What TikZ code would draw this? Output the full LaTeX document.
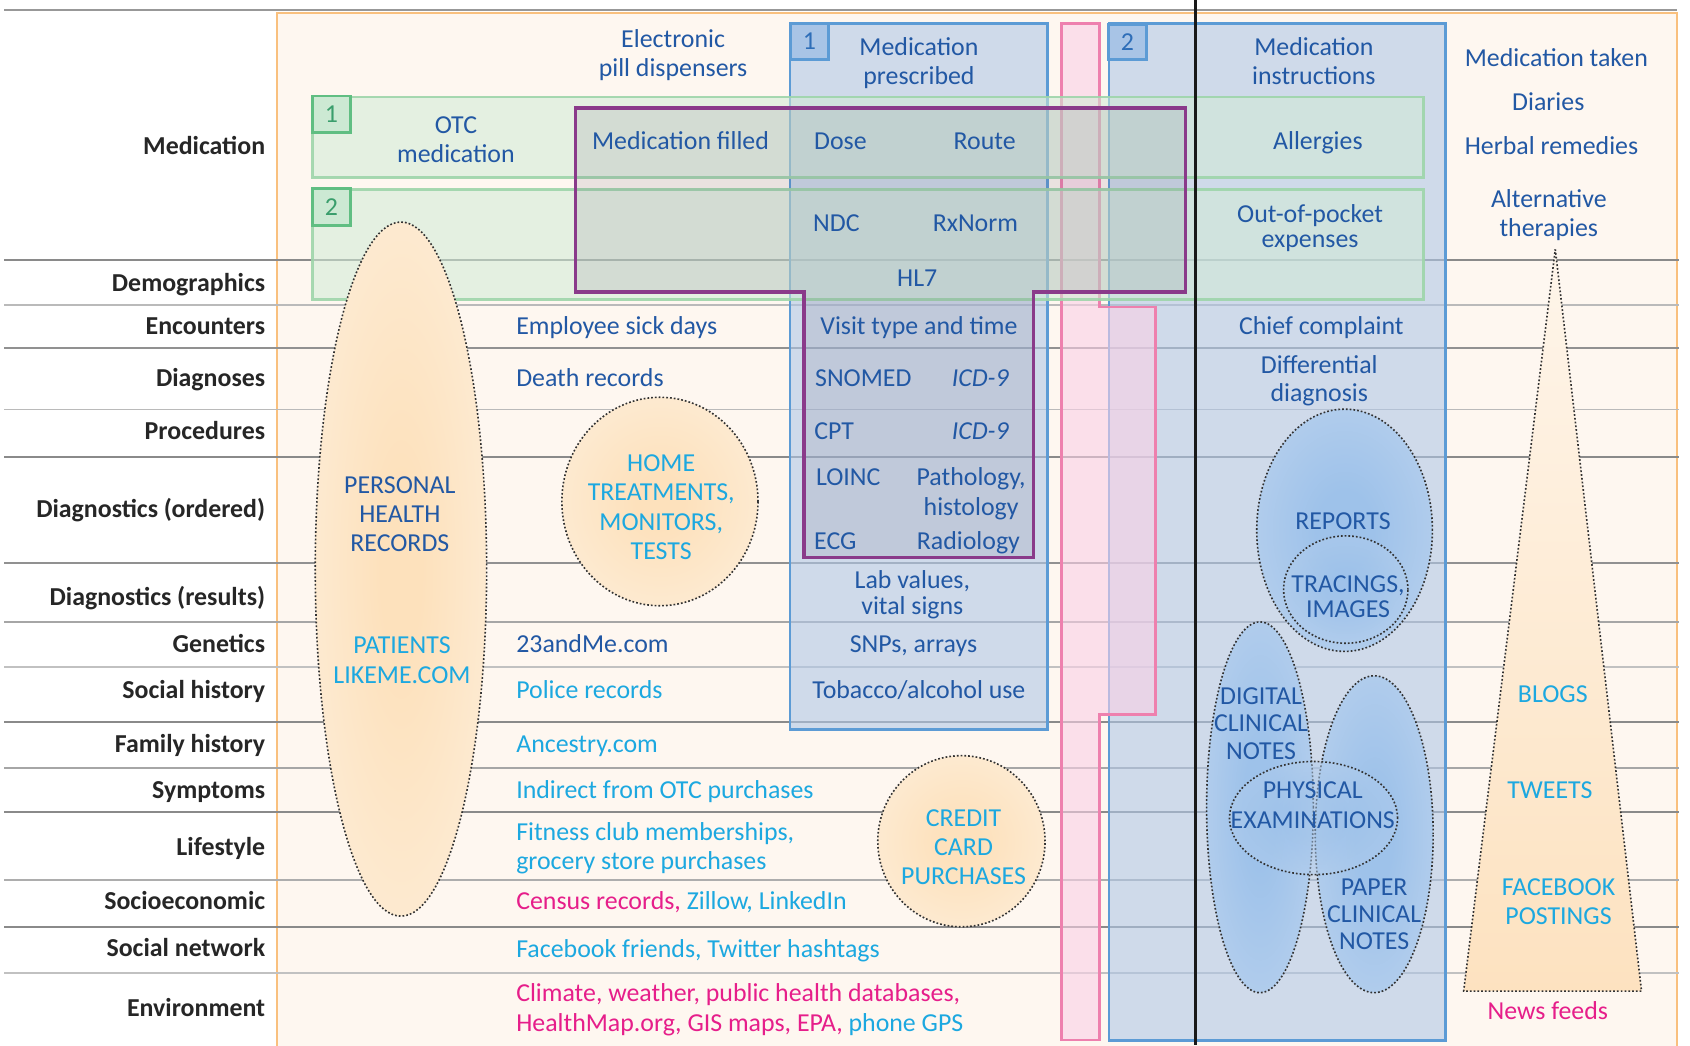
\documentclass[tikz,border=0pt]{standalone}
\usepackage{fontspec}
\setmainfont{Carlito}

\definecolor{labelink}{RGB}{38,38,38}
\definecolor{navyink}{RGB}{34,88,164}
\definecolor{cyanink}{RGB}{28,168,224}
\definecolor{pinkink}{RGB}{230,30,138}
\definecolor{peachbg}{RGB}{254,247,240}
\definecolor{peachedge}{RGB}{249,192,126}
\definecolor{rulegray}{RGB}{118,118,118}
\definecolor{boxblue}{RGB}{176,199,230}
\definecolor{boxblueedge}{RGB}{92,155,213}
\definecolor{boxgreen}{RGB}{209,235,214}
\definecolor{boxgreenedge}{RGB}{158,213,170}
\definecolor{tagfillgreen}{RGB}{204,233,211}
\definecolor{taggreenedge}{RGB}{96,190,130}
\definecolor{taggreenink}{RGB}{58,158,108}
\definecolor{tagfillblue}{RGB}{168,196,230}
\definecolor{tagblueink}{RGB}{46,110,184}
\definecolor{colpink}{RGB}{250,208,230}
\definecolor{colpinkedge}{RGB}{238,128,174}
\definecolor{bandpurple}{RGB}{138,58,138}
\definecolor{bandfill}{RGB}{90,80,110}
\definecolor{dotink}{RGB}{50,50,50}
\definecolor{peachcore}{RGB}{253,225,188}
\definecolor{peachrim}{RGB}{254,245,234}
\definecolor{bluecore}{RGB}{158,194,234}
\definecolor{bluerim}{RGB}{203,219,239}
\definecolor{conetop}{RGB}{254,245,234}
\definecolor{conebase}{RGB}{253,226,192}

% soft radial fills for the dotted bubbles
\pgfdeclareradialshading{peachglow}{\pgfpoint{0bp}{0bp}}{%
  color(0bp)=(peachcore); color(6bp)=(peachcore); color(50bp)=(peachrim); color(100bp)=(peachrim)}
\pgfdeclareradialshading{blueglow}{\pgfpoint{0bp}{0bp}}{%
  color(0bp)=(bluecore); color(8bp)=(bluecore); color(50bp)=(bluerim); color(100bp)=(bluerim)}

\newcommand\diagfont{\fontsize{24}{27}\selectfont}
\newcommand\leadfont[1]{\fontsize{24}{#1}\selectfont}

\begin{document}
\begin{tikzpicture}[x=1pt,y=-1pt,
  diagtext/.style={inner sep=0pt, outer sep=0pt, font=\diagfont, align=center, yshift=-2pt},
  rowlabel/.style={diagtext, anchor=east, font=\diagfont\bfseries, text=labelink},
  navytext/.style={diagtext, text=navyink},
  cyantext/.style={diagtext, text=cyanink},
  pinktext/.style={diagtext, text=pinkink},
  leftcol/.style={anchor=west, align=left},
  greentag/.style={draw=taggreenedge, fill=tagfillgreen, line width=2.6pt, text=taggreenink,
    font=\diagfont, minimum width=35pt, minimum height=34pt, inner sep=0pt},
  bluetag/.style={draw=boxblueedge, fill=tagfillblue, line width=2.6pt, text=tagblueink,
    font=\diagfont, minimum width=35pt, minimum height=33pt, inner sep=0pt},
  bluebox/.style={fill=boxblue, fill opacity=0.6, draw=boxblueedge, draw opacity=1, line width=2.6pt},
  greenbox/.style={fill=boxgreen, fill opacity=0.57, draw=boxgreenedge, draw opacity=0.9, line width=2.6pt},
  dotline/.style={draw=dotink, line width=1.5pt, dash pattern=on 1.6pt off 1.9pt}
]
\useasboundingbox (0,0) rectangle (1568,970);

% peach background panel
\fill[peachbg] (257,12) rectangle (1556,972);
\draw[peachedge, line width=2.4pt] (257,972) -- (257,12) -- (1556,12) -- (1556,972);
\draw[rulegray!75, line width=1.8pt] (4,9.5) -- (1556,9.5);

% row separators
\foreach \yy/\tone in {241/85, 283/50, 323/80, 380/50, 424/85, 522.7/80, 577/65, 618.5/45,
  669.6/85, 712.9/65, 753/85, 816.5/60, 859.8/85, 903/45}
  \draw[rulegray!\tone, line width=1.7pt] (4,\yy) -- (1558,\yy);

% blue source columns
\path[bluebox] (733,22) rectangle (971.5,677);
\path[bluebox] (1029,22) rectangle (1341,965);

% pink column
\path[fill=colpink, fill opacity=0.6, draw=colpinkedge, line width=2.4pt]
  (985,22) -- (1020,22) -- (1020,285) -- (1072,285) -- (1072,663) -- (1020,663)
  -- (1020,965) -- (985,965) -- cycle;

% green bands
\path[greenbox] (290,90) rectangle (1321,165);
\path[greenbox] (290,175.5) rectangle (1321,277.5);

% purple band
\path[fill=bandfill, fill opacity=0.12, draw=bandpurple, draw opacity=1, line width=3.2pt]
  (534,100) -- (1100,100) -- (1100,271) -- (959,271) -- (959,517) -- (746,517)
  -- (746,271) -- (534,271) -- cycle;

% numbered tags
\node[greentag] (gtagone) at (307.5,106) {1};
\node[greentag] (gtagtwo) at (307.5,192) {2};
\node[bluetag] (btagone) at (751,38.5) {1};
\node[bluetag] (btagtwo) at (1046,39) {2};

% peach bubbles
\shade[shading=peachglow] (372,528) ellipse [x radius=79.5pt, y radius=322pt];
\path[dotline] (372,528) ellipse [x radius=79.5pt, y radius=322pt];
\shade[shading=peachglow] (612.3,465.3) ellipse [x radius=91pt, y radius=96.7pt];
\path[dotline] (612.3,465.3) ellipse [x radius=91pt, y radius=96.7pt];
\shade[shading=peachglow] (892,780.5) ellipse [x radius=77.6pt, y radius=79.4pt];
\path[dotline] (892,780.5) ellipse [x radius=77.6pt, y radius=79.4pt];

% social media cone
\shade[top color=conetop, bottom color=conebase] (1443,231.3) -- (1523,919.5) -- (1358,919.5) -- cycle;
\path[dotline] (1443,231.3) -- (1523,919.5) -- (1358,919.5) -- cycle;

% blue bubbles
\shade[shading=blueglow] (1247.5,492) ellipse [x radius=81.5pt, y radius=112.4pt];
\path[dotline] (1247.5,492) ellipse [x radius=81.5pt, y radius=112.4pt];
\shade[shading=blueglow, fill opacity=0.5] (1248.6,547) ellipse [x radius=57.7pt, y radius=49.8pt];
\path[dotline] (1248.6,547) ellipse [x radius=57.7pt, y radius=49.8pt];
\shade[shading=blueglow] (1169,749) ellipse [x radius=49.5pt, y radius=172pt];
\shade[shading=blueglow] (1275,774) ellipse [x radius=54.7pt, y radius=147pt];
\path[dotline] (1169,749) ellipse [x radius=49.5pt, y radius=172pt];
\path[dotline] (1275,774) ellipse [x radius=54.7pt, y radius=147pt];
\shade[shading=blueglow, fill opacity=0.5] (1218.7,759) ellipse [x radius=78pt, y radius=52.5pt];
\path[dotline] (1218.7,759) ellipse [x radius=78pt, y radius=52.5pt];

% row labels
\node[rowlabel] (rmed) at (246,136) {\strut Medication};
\node[rowlabel] (rdem) at (246,263) {\strut Demographics};
\node[rowlabel] (renc) at (246,303) {\strut Encounters};
\node[rowlabel] (rdia) at (246,351) {\strut Diagnoses};
\node[rowlabel] (rpro) at (246,400.5) {\strut Procedures};
\node[rowlabel] (rord) at (246,472.6) {\strut Diagnostics (ordered)};
\node[rowlabel] (rres) at (246,554.5) {\strut Diagnostics (results)};
\node[rowlabel] (rgen) at (246,598) {\strut Genetics};
\node[rowlabel] (rsoc) at (246,641) {\strut Social history};
\node[rowlabel] (rfam) at (246,691) {\strut Family history};
\node[rowlabel] (rsym) at (246,733) {\strut Symptoms};
\node[rowlabel] (rlif) at (246,786.5) {\strut Lifestyle};
\node[rowlabel] (rses) at (246,836.6) {\strut Socioeconomic};
\node[rowlabel] (rnet) at (246,880) {\strut Social network};
\node[rowlabel] (renv) at (246,935.6) {\strut Environment};

% medication band texts
\node[navytext] (pill) at (624.5,50.2) {\strut Electronic\\\strut pill dispensers};
\node[navytext] (otc) at (423,129.5) {\strut OTC\\\strut medication};
\node[navytext] (filled) at (631.4,131.5) {\strut Medication filled};
\node[navytext] (dose) at (779.7,131.5) {\strut Dose};
\node[navytext] (route) at (913.6,131.5) {\strut Route};
\node[navytext] (ndc) at (776,207.8) {\strut NDC};
\node[navytext] (rxnorm) at (905,207.8) {\strut RxNorm};
\node[navytext] (hl7) at (851,258.2) {\strut HL7};
\node[navytext] (prescribed) at (852.6,57.3) {\strut Medication\\\strut prescribed};

% EHR column texts
\node[navytext] (visit) at (852.6,303) {\strut Visit type and time};
\node[navytext] (snomed) at (801,351) {\strut SNOMED};
\node[navytext] (icddx) at (909.5,351) {\strut\itshape ICD-9};
\node[navytext] (cpt) at (774,400.5) {\strut CPT};
\node[navytext] (icdpx) at (909.5,400.5) {\strut\itshape ICD-9};
\node[navytext] (loinc) at (787,443) {\strut LOINC};
\node[navytext, font=\leadfont{28}] (patho) at (901,457) {\strut Pathology,\\\strut histology};
\node[navytext] (ecg) at (775,502) {\strut ECG};
\node[navytext] (radio) at (898.5,502) {\strut Radiology};
\node[navytext, font=\leadfont{23}] (labs) at (846.5,551) {\strut Lab values,\\\strut vital signs};
\node[navytext] (snps) at (847.5,598) {\strut SNPs, arrays};
\node[navytext] (tobacco) at (852.6,641) {\strut Tobacco/alcohol use};

% outside sources, listed by row
\node[navytext, leftcol] (sick) at (479,303) {\strut Employee sick days};
\node[navytext, leftcol] (death) at (479,351) {\strut Death records};
\node[navytext, leftcol] (dna) at (479,598) {\strut 23andMe.com};
\node[cyantext, leftcol] (police) at (479,641) {\strut Police records};
\node[cyantext, leftcol] (ancestry) at (479,691) {\strut Ancestry.com};
\node[cyantext, leftcol] (indirect) at (479,733) {\strut Indirect from OTC purchases};
\node[cyantext, leftcol, font=\leadfont{26.5}] (fitness) at (479,786) {\strut Fitness club memberships,\\\strut grocery store purchases};
\node[diagtext, leftcol] (census) at (479,836.6) {\strut\textcolor{pinkink}{Census records,} \textcolor{cyanink}{Zillow, LinkedIn}};
\node[cyantext, leftcol] (friends) at (479,881) {\strut Facebook friends, Twitter hashtags};
\node[diagtext, leftcol, font=\leadfont{28}] (climate) at (479,935.5)
  {\strut\textcolor{pinkink}{Climate, weather, public health databases,}\\
   \strut\textcolor{pinkink}{HealthMap.org, GIS maps, EPA,} \textcolor{cyanink}{phone GPS}};

% bubble captions (peach)
\node[navytext] (phr) at (371,477.3) {\strut PERSONAL\\HEALTH\\\strut RECORDS};
\node[cyantext, font=\leadfont{28}] (plm) at (373,612.3) {\strut PATIENTS\\\strut LIKEME.COM};
\node[cyantext, font=\leadfont{27.3}] (home) at (613.5,471) {\strut HOME\\TREATMENTS,\\MONITORS,\\\strut TESTS};
\node[cyantext, font=\leadfont{26.7}] (credit) at (894,786.6) {\strut CREDIT\\CARD\\\strut PURCHASES};

% clinician notes column
\node[navytext] (instr) at (1219,57.7) {\strut Medication\\\strut instructions};
\node[navytext] (allerg) at (1222.7,131.5) {\strut Allergies};
\node[navytext, font=\leadfont{23}] (oop) at (1215.5,211) {\strut Out-of-pocket\\\strut expenses};
\node[navytext] (chief) at (1226,303) {\strut Chief complaint};
\node[navytext, font=\leadfont{26.3}] (ddx) at (1224,352) {\strut Differential\\\strut diagnosis};
\node[navytext] (reports) at (1246,484) {\strut REPORTS};
\node[navytext, font=\leadfont{23}] (tracing) at (1250.7,555) {\strut TRACINGS,\\\strut IMAGES};
\node[navytext, font=\leadfont{25.5}] (digital) at (1170,672) {\strut DIGITAL\\CLINICAL\\\strut NOTES};
\node[navytext, font=\leadfont{28}] (physical) at (1218,747) {\strut PHYSICAL\\\strut EXAMINATIONS};
\node[navytext, font=\leadfont{25}] (paper) at (1275,848.5) {\strut PAPER\\CLINICAL\\\strut NOTES};

% patient-generated column
\node[navytext] (taken) at (1444,54) {\strut Medication taken};
\node[navytext] (diaries) at (1436.5,95.3) {\strut Diaries};
\node[navytext] (herbal) at (1439.5,135.5) {\strut Herbal remedies};
\node[navytext] (altern) at (1437,198.2) {\strut Alternative\\\strut therapies};
\node[cyantext] (blogs) at (1440.7,644.8) {\strut BLOGS};
\node[cyantext] (tweets) at (1438,733) {\strut TWEETS};
\node[cyantext, font=\leadfont{26.5}] (fbpost) at (1446,837) {\strut FACEBOOK\\\strut POSTINGS};
\node[pinktext] (news) at (1436,938.6) {\strut News feeds};

% divider
\draw[black!90, line width=2.8pt] (1109,0) -- (1109,970);
\end{tikzpicture}
\end{document}
